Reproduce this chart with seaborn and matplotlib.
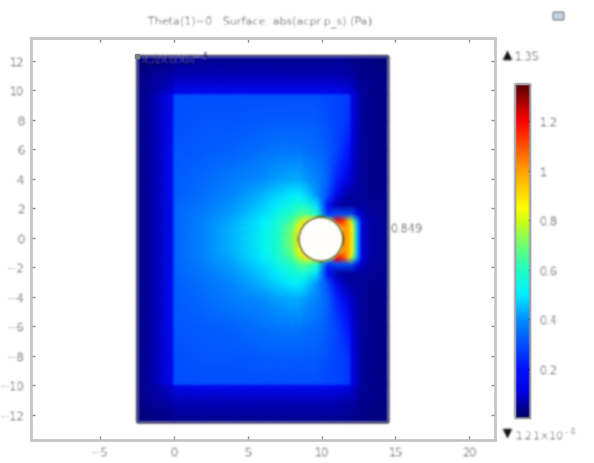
import numpy as np
import seaborn as sns
import matplotlib
matplotlib.use("Agg")
import matplotlib.pyplot as plt
from matplotlib.patches import Circle, Rectangle

# Field nodes (upper half, lower half mirrors it)
x_nodes = [-2.5, -1.2, -0.08, 0, 2, 4, 6, 7, 8, 8.5, 9, 9.7, 10.4, 11, 11.5, 11.88, 12.05, 12.4, 12.7, 13.2, 14.5]
y_offsets = [0, 0.8, 1.25, 1.7, 2.3, 3, 4, 6, 8, 9.82, 9.9, 11, 12.42]
y_centre = -0.1

field_upper = [
    [.03, .07, .17, .33, .38, .44, .52, .58, .72, .90, 1.0, 1.0, 1.0, .96, 1.00, .98, .85, .45, .12, .06, .04],
    [.03, .07, .17, .33, .38, .44, .51, .57, .69, .86, 1.0, 1.0, 1.0, 1.00, 1.02, .96, .85, .45, .12, .06, .04],
    [.03, .07, .17, .33, .38, .43, .50, .56, .65, .76, .88, .80, .60, 1.20, 1.12, .92, .75, .42, .12, .06, .04],
    [.03, .07, .17, .33, .37, .42, .48, .54, .60, .65, .66, .58, .25, .30, .30, .30, .30, .15, .08, .05, .04],
    [.03, .07, .17, .33, .36, .41, .46, .50, .55, .57, .56, .48, .18, .06, .05, .05, .05, .05, .05, .05, .04],
    [.03, .07, .17, .32, .35, .39, .44, .47, .50, .50, .47, .40, .30, .14, .07, .06, .05, .05, .05, .04, .04],
    [.03, .07, .17, .32, .34, .37, .40, .42, .43, .43, .41, .38, .33, .23, .15, .10, .08, .06, .05, .04, .04],
    [.03, .07, .17, .31, .32, .33, .35, .36, .36, .36, .35, .34, .32, .28, .24, .19, .10, .07, .05, .04, .03],
    [.03, .07, .16, .30, .31, .31, .32, .32, .32, .32, .32, .32, .30, .28, .27, .25, .12, .08, .05, .04, .03],
    [.03, .07, .16, .30, .30, .30, .30, .30, .30, .30, .30, .30, .29, .28, .27, .26, .12, .08, .05, .04, .03],
    [.03, .06, .10, .15, .16, .16, .16, .16, .16, .16, .16, .16, .16, .15, .14, .13, .10, .07, .05, .04, .03],
    [.03, .05, .06, .07, .07, .07, .07, .07, .07, .07, .07, .07, .07, .07, .06, .06, .06, .05, .04, .04, .03],
    [.02, .03, .03, .04, .04, .04, .04, .04, .04, .04, .04, .04, .04, .04, .04, .03, .03, .03, .03, .03, .02],
]

x_ticks = [-5, 0, 5, 10, 15, 20]
y_ticks = [-12, -10, -8, -6, -4, -2, 0, 2, 4, 6, 8, 10, 12]
cbar_ticks = [0.2, 0.4, 0.6, 0.8, 1, 1.2]
cbar_labels = ["0.2", "0.4", "0.6", "0.8", "1", "1.2"]
vmin = 1.21e-4
vmax = 1.35

# colour stops of the bar
stop_values = [0, 0.1, 0.2, 0.3, 0.4, 0.5, 0.6, 0.7, 0.8, 0.85, 1.0, 1.1, 1.2, 1.35]
stop_colors = ["#000060", "#0000e0", "#0010ff", "#0050ff", "#0090ff", "#00f0ff", "#20ffc0",
               "#70ff70", "#d0ff10", "#ffff00", "#ffa000", "#ff5000", "#ff0000", "#5a0000"]


def blur(arr, dpi, sigma=1.1):
    # soft look of the low resolution original
    pad = 5
    out = np.pad(arr, ((pad, pad), (pad, pad), (0, 0)))
    kern = np.exp(-0.5 * (np.arange(-pad, pad + 1) / sigma) ** 2)
    kern = kern / kern.sum()
    for axis in (0, 1):
        out = sum(k * np.roll(out, i - pad, axis=axis) for i, k in enumerate(kern))
    return out, -pad, -pad


sns.set_theme(style="ticks")
plt.rcParams["font.family"] = ["DejaVu Sans"]

W, H = 594, 464
cmap = matplotlib.colors.LinearSegmentedColormap.from_list(
    "rainbow_bar", [((v - stop_values[0]) / (stop_values[-1] - stop_values[0]), c)
                    for v, c in zip(stop_values, stop_colors)])

fig = plt.figure(figsize=(W / 100, H / 100), dpi=100, facecolor="white")


def box(x0, y0, x1, y1):
    return [x0 / W, 1 - y1 / H, (x1 - x0) / W, (y1 - y0) / H]


ax = fig.add_axes(box(31, 39, 495, 441))
upper = np.array(field_upper)
field = np.vstack([upper[:0:-1], upper])
off = np.array(y_offsets)
y_nodes = y_centre + np.concatenate([-off[:0:-1], off])
mesh = ax.pcolormesh(x_nodes, y_nodes, field, cmap=cmap, vmin=0, vmax=vmax, shading="gouraud")
mesh.set_agg_filter(blur)

hole = Circle((9.95, y_centre), 1.5, facecolor="white", edgecolor="#6a6a20", lw=1.2, zorder=3)
hole.set_agg_filter(blur)
ax.add_patch(hole)
frame = Rectangle((-2.5, y_centre - 12.42), 17, 24.84, fill=False, edgecolor="#4a4a8a", lw=1.0, zorder=4)
frame.set_agg_filter(blur)
ax.add_patch(frame)
ax.plot([-2.5], [y_centre + 12.42], marker="s", ms=3, color="#808080", zorder=5)

ax.set_xlim(-9.7, 21.75)
ax.set_ylim(-13.72, 13.55)
ax.set_xticks(x_ticks)
ax.set_yticks(y_ticks)
ax.tick_params(direction="in", length=3, width=1, color="#8a8a8a", labelcolor="#666666",
               labelsize=8, top=True, right=True, pad=5)
for s in ax.spines.values():
    s.set_color("#c4c4c4")
    s.set_linewidth(2)
for t in ax.get_xticklabels() + ax.get_yticklabels():
    t.set_agg_filter(blur)

notes = [
    (260, 22, "Theta(1)=0   Surface: abs(acpr.p_s) (Pa)", "center", "#555555", 8),
    (390, 229, "0.849", "left", "#555555", 8),
    (140, 60, "1.21×10$^{-4}$", "left", "#000040", 9),
    (515, 57, "1.35", "left", "#666666", 8),
    (515, 435, "1.21×10$^{-4}$", "left", "#666666", 8),
]
for px, py, s, ha, col, size in notes:
    t = fig.text(px / W, 1 - py / H, s, ha=ha, va="center", color=col, fontsize=size)
    t.set_agg_filter(blur)

# min and max arrows next to the frame
for px, py, mk in [(507, 56, "^"), (507, 434, "v")]:
    fig.add_artist(plt.Line2D([px / W], [1 - py / H], marker=mk, ms=6, color="#111111",
                              transform=fig.transFigure)).set_agg_filter(blur)

# little icon top right
icon = Rectangle((553 / W, 1 - 21 / H), 11 / W, 8 / H, transform=fig.transFigure,
                 facecolor="#c4d6e2", edgecolor="none")
icon.set_agg_filter(blur)
fig.add_artist(icon)

# colour bar as a one column heatmap
cax = fig.add_axes(box(515, 85, 530, 419))
ramp = np.linspace(vmax, vmin, 256)[:, None]
sns.heatmap(ramp, ax=cax, cmap=cmap, vmin=0, vmax=vmax, cbar=False, xticklabels=False, yticklabels=False)
cax.collections[0].set_agg_filter(blur)
cax.set_xlabel("")
cax.set_yticks([(vmax - v) / (vmax - vmin) * 256 for v in cbar_ticks], cbar_labels, rotation=0)
cax.yaxis.tick_right()
cax.tick_params(direction="in", length=2, width=1, color="#555555", labelcolor="#666666",
                labelsize=8, left=True, right=True, pad=7)
for s in cax.spines.values():
    s.set_visible(True)
    s.set_color("#a0a0b0")
    s.set_linewidth(1)
for t in cax.get_yticklabels():
    t.set_agg_filter(blur)

fig.savefig("out.png", dpi=100)
